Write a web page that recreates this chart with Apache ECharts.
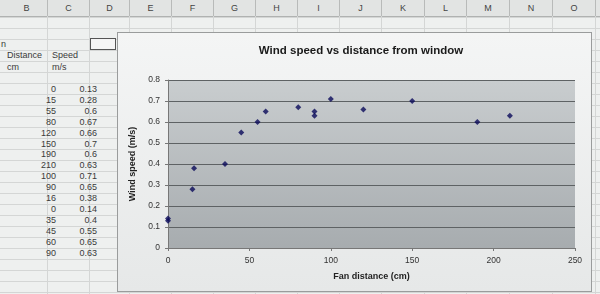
<!DOCTYPE html>
<html><head><meta charset="utf-8">
<script src="https://cdn.jsdelivr.net/npm/echarts@6/dist/echarts.min.js"></script>
<style>
html,body{margin:0;padding:0;width:600px;height:294px;overflow:hidden;background:#eef0ef;font-family:"Liberation Sans",Arial,sans-serif;}
#sheet{position:absolute;left:0;top:0;width:600px;height:294px;}
.cell{position:absolute;font-size:9px;color:#3a3a3a;white-space:nowrap;}
.hdr{position:absolute;top:0;height:16px;line-height:16px;font-size:9px;color:#444;text-align:center;border-right:1px solid #b8bab9;}
.hl{position:absolute;left:0;width:600px;height:1px;background:#d4d6d5;}
.vl{position:absolute;top:16px;height:278px;width:1px;background:#d4d6d5;}
#frame{position:absolute;left:117px;top:32px;width:473px;height:258px;border:1px solid #9a9c9c;background:linear-gradient(180deg,#f4f5f5 0%,#e6e8e8 100%);}
#chart{position:absolute;left:0;top:0;width:600px;height:294px;}
</style></head>
<body>
<div id="sheet"></div>
<div id="frame"></div>
<div id="chart"></div>
<script>
// Table values (as read from the spreadsheet)
const distance = [0, 15, 55, 80, 120, 150, 190, 210, 100, 90, 16, 0, 35, 45, 60, 90];
const speed = [0.13, 0.28, 0.6, 0.67, 0.66, 0.7, 0.6, 0.63, 0.71, 0.65, 0.38, 0.14, 0.4, 0.55, 0.65, 0.63];
const columnLetters = ['B','C','D','E','F','G','H','I','J','K','L','M','N','O'];
const xTicks = [0, 50, 100, 150, 200, 250];
const yTicks = [0, 0.1, 0.2, 0.3, 0.4, 0.5, 0.6, 0.7, 0.8];

// ---- spreadsheet backdrop ----
const sheet = document.getElementById('sheet');
let html = '<div style="position:absolute;left:0;top:0;width:600px;height:16px;background:#e2e4e3;border-bottom:1px solid #b0b2b1"></div>';
let x0 = 6, cw = [42, 42, 40, 42, 42, 42, 42, 42, 42, 43, 42, 43, 43, 43];
let xs = x0;
columnLetters.forEach((c, i) => {
  html += `<div class="hdr" style="left:${xs}px;width:${cw[i]-1}px">${c}</div>`;
  html += `<div class="vl" style="left:${xs + cw[i] - 1}px"></div>`;
  xs += cw[i];
});
for (let r = 0; r < 26; r++) {
  html += `<div class="hl" style="top:${17 + r * 11}px"></div>`;
}
html += `<div class="cell" style="left:1px;top:39px">n</div>`;
html += `<div style="position:absolute;left:90px;top:38px;width:24px;height:10px;border:1px solid #555;background:#f5f5f5"></div>`;
html += `<div class="cell" style="left:7px;top:50px">Distance</div><div class="cell" style="left:52px;top:50px">Speed</div>`;
html += `<div class="cell" style="left:7px;top:62px">cm</div><div class="cell" style="left:52px;top:62px">m/s</div>`;
distance.forEach((d, i) => {
  const t = 84 + i * 10.9;
  html += `<div class="cell" style="right:${600-56}px;top:${t}px">${d}</div>`;
  html += `<div class="cell" style="right:${600-97}px;top:${t}px">${speed[i]}</div>`;
});
sheet.innerHTML = html;

// ---- chart ----
const points = distance.map((d, i) => [d, speed[i]]);
const chart = echarts.init(document.getElementById('chart'), null, {renderer: 'canvas'});
chart.setOption({
  backgroundColor: 'transparent',
  animation: false,
  title: {
    text: 'Wind speed vs distance from window',
    left: 356, top: 40, textAlign: 'center',
    textStyle: {fontSize: 11.5, fontWeight: 'bold', color: '#1a1a1a', fontFamily: 'Liberation Sans'}
  },
  grid: {
    left: 168, top: 80, right: 25, bottom: 46,
    show: true, borderWidth: 0,
    backgroundColor: new echarts.graphic.LinearGradient(0, 0, 0, 1, [
      {offset: 0, color: '#c9cdcf'}, {offset: 1, color: '#a7acaf'}
    ])
  },
  xAxis: {
    type: 'value', min: 0, max: 250, interval: 50,
    name: 'Fan distance (cm)', nameLocation: 'middle', nameGap: 24,
    nameTextStyle: {fontSize: 9, fontWeight: 'bold', color: '#222', fontFamily: 'Liberation Sans'},
    axisLine: {show: true, lineStyle: {color: '#777', width: 1}},
    axisTick: {show: true, length: 3, lineStyle: {color: '#777'}},
    axisLabel: {fontSize: 8.5, color: '#333', margin: 8, fontFamily: 'Liberation Sans',
      formatter: v => xTicks.includes(v) ? String(v) : ''},
    splitLine: {show: false}
  },
  yAxis: {
    type: 'value', min: 0, max: 0.8, interval: 0.1,
    name: 'Wind speed (m/s)', nameLocation: 'middle', nameGap: 25, nameRotate: 90,
    nameTextStyle: {fontSize: 9, fontWeight: 'bold', color: '#222', fontFamily: 'Liberation Sans'},
    axisLine: {show: true, lineStyle: {color: '#777', width: 1}},
    axisTick: {show: true, length: 3, lineStyle: {color: '#777'}},
    axisLabel: {fontSize: 8.5, color: '#333', margin: 8, fontFamily: 'Liberation Sans',
      formatter: v => { const m = yTicks.find(t => Math.abs(t - v) < 1e-9); return m === undefined ? '' : (m === 0 ? '0' : String(m)); }},
    splitLine: {show: true, lineStyle: {color: '#5e6264', width: 1}}
  },
  series: [{
    type: 'scatter',
    data: points,
    symbol: 'diamond',
    symbolSize: 6,
    itemStyle: {color: '#0a0a5a'}
  }]
});
</script>
</body></html>
